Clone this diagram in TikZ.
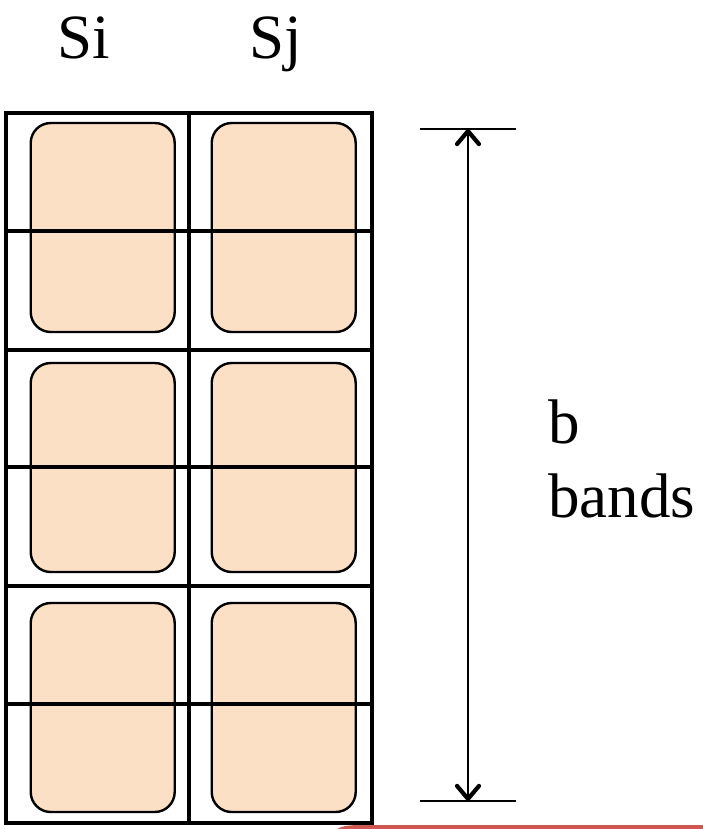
\documentclass[tikz,border=0pt]{standalone}
\usepackage{fontspec}
\setmainfont{Liberation Serif}
\usetikzlibrary{arrows.meta}
\definecolor{peach}{RGB}{252,224,198}
\definecolor{edgered}{RGB}{206,88,80}
\begin{document}
\begin{tikzpicture}[x=1pt,y=-1pt,
  gridline/.style={line width=3.4pt, draw=black},
  bucket/.style={draw=black, line width=2.4pt, fill=peach, rounded corners=20pt,
    minimum width=144pt, minimum height=209pt, inner sep=0pt, outer sep=0pt},
  label/.style={font=\fontsize{63}{74}\selectfont, inner sep=0pt, anchor=base west},
  tick/.style={line width=2.6pt},
  span/.style={line width=2.2pt, {Straight Barb[length=13pt,width=22pt,line width=4.2pt,line cap=round,line join=round]}-{Straight Barb[length=13pt,width=22pt,line width=4.2pt,line cap=round,line join=round]}}
]
\useasboundingbox (0,0) rectangle (702,829);

% column headings
\node[label] (si) at (57,59) {Si};
\node[label] (sj) at (249,59) {Sj};

% buckets: two columns, three band pairs
\foreach \c/\x in {i/102.7, j/283.7}{
  \foreach \r/\y in {1/227.5, 2/467.5, 3/707.5}{
    \node[bucket] (b\c\r) at (\x,\y) {};
  }
}

% signature grid
\draw[gridline] (6,113) rectangle (372,823);
\draw[gridline] (189,113) -- (189,823);
\foreach \y in {231,350,467,586,704}{
  \draw[gridline] (6,\y) -- (372,\y);
}

% band span marker
\coordinate (t1) at (420,129);
\coordinate (t2) at (516,129);
\coordinate (u1) at (420,801);
\coordinate (u2) at (516,801);
\coordinate (top) at (468,129);
\coordinate (bot) at (468,801);
\draw[tick] (t1) -- (t2);
\draw[tick] (u1) -- (u2);
\draw[span] (top) -- (bot);

\node[label] (lb) at (548,443) {b};
\node[label] (lbands) at (548,517) {bands};

% edge of the box below
\draw[edgered, line width=4pt] (335,834) .. controls (339,828) and (348,827) .. (362,827) -- (706,827);
\end{tikzpicture}
\end{document}
